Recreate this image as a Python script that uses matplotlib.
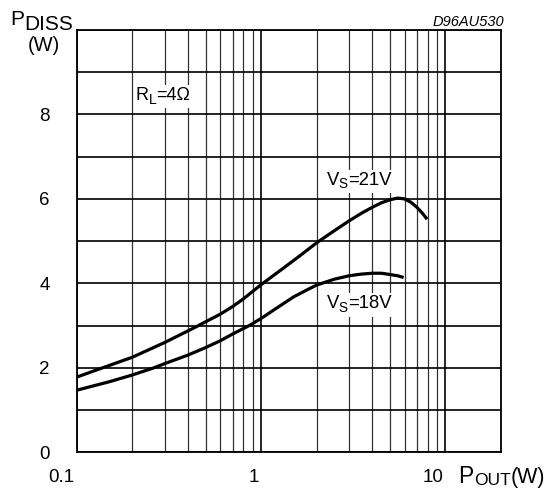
import matplotlib
matplotlib.use("Agg")
import matplotlib.pyplot as plt
from matplotlib.patches import Rectangle
from matplotlib.transforms import Bbox, IdentityTransform, blended_transform_factory, offset_copy
from matplotlib.ticker import FixedLocator, LogLocator, NullFormatter

# --- data ---
pout_21v = [0.1, 0.134, 0.2, 0.3, 0.448, 0.5, 0.6, 0.7, 0.8, 0.9, 1.0, 1.32, 1.63, 2.0, 2.5,
            3.0, 3.5, 4.0, 4.5, 5.0, 5.5, 6.0, 6.5, 7.0, 7.5, 7.95]
pdiss_21v = [1.78, 1.98, 2.25, 2.6, 2.98, 3.09, 3.27, 3.45, 3.63, 3.81, 3.97, 4.36, 4.66, 4.96, 5.25,
             5.48, 5.66, 5.8, 5.91, 5.98, 6.02, 6.0, 5.92, 5.8, 5.66, 5.52]

pout_18v = [0.1, 0.15, 0.2, 0.262, 0.3, 0.4, 0.5, 0.6, 0.7, 0.87, 1.0, 1.2, 1.5, 1.8, 2.0, 2.5,
            3.0, 3.5, 4.0, 4.5, 5.0, 5.5, 5.93]
pdiss_18v = [1.47, 1.67, 1.83, 2.0, 2.1, 2.3, 2.48, 2.64, 2.8, 3.01, 3.17, 3.4, 3.68, 3.86, 3.96, 4.1,
             4.18, 4.22, 4.24, 4.24, 4.21, 4.18, 4.14]

x_ticks = [0.1, 1, 10]
x_tick_labels = ["0.1", "1", "10"]
y_ticks = list(range(0, 11))
y_tick_labels = ["0", "", "2", "", "4", "", "6", "", "8", "", ""]

W, H = 557, 490
plt.rcParams['font.family'] = ['Liberation Sans', 'DejaVu Sans']

fig = plt.figure(figsize=(W / 100, H / 100), dpi=100)
fig.patch.set_facecolor('white')

# axes box in pixels: left 76.7, right 501, top 30, bottom 452.3
ax = fig.add_axes([76.7 / W, (H - 452.3) / H, (501 - 76.7) / W, (452.3 - 30) / H])
ax.set_xscale('log')
ax.set_xlim(0.1, 20)
ax.set_ylim(0, 10)

ax.xaxis.set_major_locator(FixedLocator(x_ticks))
ax.xaxis.set_minor_locator(LogLocator(base=10, subs=range(2, 10)))
ax.xaxis.set_minor_formatter(NullFormatter())
ax.set_yticks(y_ticks, y_tick_labels)

ax.grid(which='major', color='black', linewidth=1.2)
ax.grid(which='minor', axis='x', color='#333333', linewidth=0.9)
ax.set_axisbelow(True)
for spine in ax.spines.values():
    spine.set_linewidth(1.3)
    spine.set_color('black')

ax.tick_params(axis='both', which='both', length=0)
ax.tick_params(axis='y', labelsize=13.5, pad=19.5)
ax.tick_params(axis='x', labelbottom=False)

# x tick labels, right aligned just left of the decade lines
xt = offset_copy(blended_transform_factory(ax.transData, ax.transAxes), fig=fig, x=-2, y=-29.4, units='dots')
for v, s in zip(x_ticks, x_tick_labels):
    ax.text(v, 0, s, transform=xt, ha='right', va='baseline', fontsize=13.5)

# --- curves ---
ax.plot(pout_21v, pdiss_21v, color='black', linewidth=2.3, solid_capstyle='butt', zorder=3)
ax.plot(pout_18v, pdiss_18v, color='black', linewidth=2.3, solid_capstyle='butt', zorder=3)

renderer = fig.canvas.get_renderer()


def rich_text(x, y, pieces, background=False):
    # x = left edge, y = baseline, both in pixels from the top-left corner
    texts = []
    for s, size, dy in pieces:
        t = fig.text(x / W, 1 - (y + dy) / H, s, fontsize=size, ha='left', va='baseline', zorder=4)
        x += t.get_window_extent(renderer).width
        texts.append(t)
    if background:
        bb = Bbox.union([t.get_window_extent(renderer) for t in texts])
        rect = Rectangle((bb.x0 - 2, bb.y0 - 2), bb.width + 4, bb.height + 4,
                         transform=IdentityTransform(), facecolor='white',
                         edgecolor='none', zorder=2)
        fig.add_artist(rect)
    return texts


# axis titles
rich_text(10, 25, [("P", 15, 0), ("DISS", 15, 5)])
fig.text(44 / W, 1 - 51 / H, "(W)", fontsize=14.5, ha='center', va='baseline')
rich_text(458.5, 483.3, [("P", 16.5, 0), ("OUT", 12.5, 1.5), ("(W)", 15.5, 0)])

fig.text(504 / W, 1 - 26 / H, "D96AU530", fontsize=10.5, style='italic', ha='right', va='baseline')

# curve annotations
rich_text(135.5, 100, [("R", 13, 0), ("L", 10, 3.5), ("=4Ω", 13, 0)], background=True)
rich_text(326.5, 185, [("V", 13.3, 0), ("S", 9.8, 3.3), ("=21V", 13.3, 0)], background=True)
rich_text(326.5, 308.3, [("V", 13.3, 0), ("S", 9.8, 3.3), ("=18V", 13.3, 0)], background=True)

fig.savefig("out.png", dpi=100, facecolor='white')
